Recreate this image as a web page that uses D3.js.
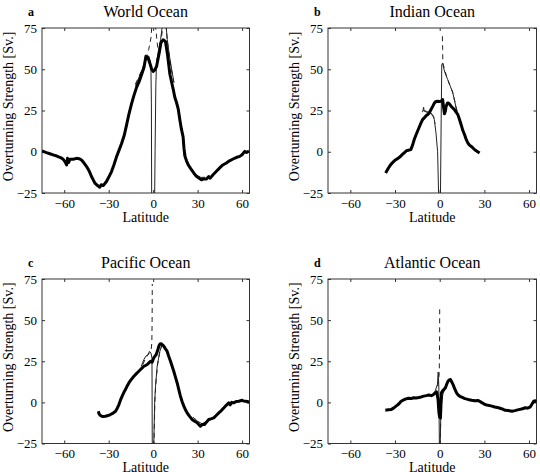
<!DOCTYPE html>
<html><head><meta charset="utf-8">
<script src="https://cdn.jsdelivr.net/npm/d3@7"></script>
<style>
html,body{margin:0;padding:0;background:#fff;}
svg{display:block;}
text{font-family:"Liberation Serif","Times New Roman",serif;fill:#000;}
</style></head>
<body>
<svg id="chart" width="540" height="472"></svg>
<script>
// ---------- data (latitude, overturning strength in Sv) ----------
const xTicks = [-60, -30, 0, 30, 60];
const yTicks = [-25, 0, 25, 50, 75];
const panelLetters = ["a", "b", "c", "d"];
const panelTitles = ["World Ocean", "Indian Ocean", "Pacific Ocean", "Atlantic Ocean"];

const worldThick = [[-75,0.5],[-72,-0.5],[-69.7,-1.2],[-67,-2],[-65,-2.6],[-62.5,-3.5],[-60.7,-4.6],[-59.5,-6],[-58.4,-8],[-57.8,-4],[-57,-6.5],[-56.2,-4.6],[-54,-4.5],[-51.7,-4],[-50,-4.2],[-48.3,-5],[-46.5,-7],[-44.9,-9],[-43,-12],[-41.6,-15],[-39.3,-19],[-37.5,-20.5],[-36,-21.5],[-35,-20],[-33.7,-20.5],[-31.5,-18],[-30,-15.5],[-28.1,-12],[-26.5,-8],[-24.7,-3],[-23,1],[-21.3,5],[-19.5,10],[-18,16],[-16.3,23],[-14.6,29],[-13,34],[-11.2,39],[-9.5,42.5],[-7.9,46.5],[-6.2,51],[-4.9,57.8],[-3.5,57],[-2,53],[-1,50],[0,48.7],[1,49.5],[2.3,51.7],[3.4,56.8],[4.3,61],[5.2,65.9],[6.7,67.9],[8.3,66.9],[9.7,58.8],[11.3,47],[12.5,42],[13.5,38],[14.6,33],[15.7,30],[16.9,26],[18,19.4],[19,14],[20.2,9],[20.8,2],[21.5,-2.9],[22.5,-5.5],[23.6,-7.8],[25.8,-10.9],[27.5,-13],[29.2,-14.9],[31,-16],[32.6,-17],[34,-16.5],[36,-16.5],[37.5,-15],[38.5,-16],[40.4,-13.9],[42.5,-12],[44.9,-9.8],[47,-8],[49.4,-6.8],[51.5,-5.5],[53.9,-4.4],[56,-3.5],[58.4,-2.8],[60,-1.8],[61.8,0.2],[63,-0.5],[64.7,0.5]];
const worldThin = [[-12,40],[-10,44],[-8,48.5],[-6,53],[-4.5,58],[-3,58],[-2,55],[-1.5,50],[-1.2,30],[-1.0,-27],null,
  [1.0,-27],[1.3,0],[1.8,40],[2.3,55],[3.5,60],[5,68],[6,75],[6.5,77],null,
  [8.7,77],[9.5,68],[11,58],[12.5,50],[14,42],null,
  [20.5,-1],[22,-5],[24,-9],[26,-11.5],[29,-14],[32,-15.5],[35,-15.5]];
const worldDashed = [[-12,41],[-10,44.7],[-7,51],[-4.5,57.6],[-3,62],[-1.5,69],[-0.8,77],null,
  [1.5,77],[2.5,68],[3.5,60],[4.5,63],[6,72],[6.6,77],null,
  [8.5,77],[10,64],[12,51],[14,42]];

const indianThick = [[-36.3,-12.9],[-34.5,-10],[-32.9,-7.8],[-31,-6],[-29.5,-4.8],[-28,-4],[-26.2,-2.7],[-25,-1.5],[-23.9,-0.8],[-22.5,0.5],[-21.7,0.8],[-19.4,1.3],[-18.2,4],[-17.1,7.4],[-16,10],[-14.9,12.4],[-13.7,15],[-12.6,17.4],[-11.5,19.5],[-10.4,20.5],[-9,22],[-8.1,22.5],[-7,23.5],[-5.9,25.5],[-4.7,27.5],[-3.6,29.5],[-2.5,30.5],[-1.4,30.6],[0,30.5],[0.9,30.6],[2.0,31.6],[2.6,27],[3.2,23],[3.8,24.5],[4.3,27.5],[5.2,29.5],[5.9,29.5],[7,28.5],[7.7,27.5],[8.8,26.5],[9.9,25.5],[11,24],[12.2,22.5],[13.3,19.5],[14.4,16.4],[15.5,13],[16.7,10.3],[17.8,7.5],[18.9,5.3],[20,4],[21.2,3.2],[22.3,2.3],[23.5,1.2],[25,0.3],[26.8,-0.8]];
const indianThin = [[-11.5,24],[-10.8,27],[-10.5,25],[-9,24.5],[-7.5,24],[-5.9,23.5],[-4.5,22],[-3.6,19.4],[-2.5,11.4],[-1.4,0],[-0.7,-27],null,
  [0.5,-27],[1.0,20],[1.4,52.8],[2.0,53.8],[2.6,51],[3.5,48],[5.4,43.7],[7,40],[8.8,35.6],[10,31],[11,26.5],[12,23]];
const indianDashed = [[-11,25],[-9,24],[-6,23],[-4,21],[-3,17],null,
  [1.8,70],[2.0,62],[2.1,53.5],[3,51],[4.5,46],[6.5,41],[8.8,36],[10.5,29],[12,23.5]];

const pacificThick = [[-37,-5.4],[-36.5,-7],[-35.5,-8],[-34,-8.6],[-32.1,-8.4],[-30.5,-8],[-28.8,-7.4],[-27,-6.5],[-25.4,-5.4],[-24.2,-3.5],[-23.1,-1.3],[-22,1.5],[-20.9,3.8],[-19.8,6],[-18.7,7.8],[-17.5,10],[-16.4,11.8],[-14.7,14],[-13,15.9],[-11.3,17.5],[-9.7,18.9],[-8.5,20],[-7.4,21],[-6.3,22],[-5.2,22.4],[-4,23],[-2.9,24],[-1.8,25],[-0.7,24.4],[0.4,27],[2,29],[3,31.5],[3.8,34.1],[4.6,35.5],[5.4,35.7],[6.3,35],[7.2,34.1],[8.3,32.5],[9.4,31.1],[10.5,28],[11.7,25],[12.8,22],[13.9,18.9],[15,15.5],[16.2,11.8],[17.3,7.8],[18.4,3.8],[19.5,0.5],[20.7,-2.3],[21.8,-4.5],[22.9,-6.4],[24.6,-8.5],[26.3,-10.4],[28,-11.5],[29.7,-12.4],[30.8,-13.5],[31.9,-14.5],[33,-13.5],[34.6,-13.5],[36,-12],[37.5,-10.4],[39,-10],[40.9,-9.4],[42.5,-8],[44.3,-6.4],[46,-5],[47.6,-3.4],[49.3,-1.8],[51,-0.3],[52,-1.5],[53,0],[54.4,-0.3],[56,0.5],[57.8,0.7],[60,1.3],[61,0.8],[62.2,0.7],[63.5,0.5],[65,0.1]];
const pacificThin = [[-8,22],[-6.3,26],[-5,28],[-3.5,29],[-2.5,31],[-1.5,30],[-0.8,27],[-0.6,-27],null,
  [0.4,-27],[1,0],[1.6,9.8],[2.7,22],[4.5,31],[6,35],null,
  [27,-9],[30,-11.5],[33,-13],[36,-11.5]];
const pacificDashed = [[-7,23],[-5,27],[-3,29.5],[-1.5,31],[-0.9,36],[-0.7,50],[-0.6,72],null,
  [0.5,-27],[1.2,2],[2,14],[3,23],[4.5,31],[6,35]];

const atlanticThick = [[-36.5,-4.8],[-34.5,-4.5],[-32.7,-4.4],[-31,-3.5],[-29.3,-2.3],[-27.5,-1],[-25.9,0.7],[-24.2,1.5],[-22.6,2.1],[-21,2.5],[-19.2,2.3],[-17.5,2.8],[-15.8,2.7],[-14,3],[-12.4,3.3],[-10.7,3.8],[-9,4.1],[-7.3,4.5],[-5.6,4.1],[-4.5,4.5],[-3.4,5.4],[-2,6.2],[-1.1,1.7],[-0.5,-6.4],[0,-9],[0.5,-9.4],[0.8,-3],[1.1,5.8],[2.3,7.4],[3.8,8.8],[4.7,11],[5.6,12.9],[6.4,13.7],[7.2,13.9],[8,12.5],[9,10.8],[10.2,8],[11.3,5.8],[12.4,4.5],[13.5,3.7],[15.2,3],[16.9,2.3],[19,1.8],[21.4,1.3],[23.6,1],[25.9,1.1],[28,0],[30.4,-1.3],[32.5,-1.8],[35,-2.3],[37,-2.8],[39.5,-3.3],[42,-4],[44,-4.8],[46,-5],[48.5,-5.4],[50.5,-5],[53,-4.4],[55,-4],[57.5,-3.3],[59,-3.5],[60.9,-2.7],[62,-1],[63.1,0.7],[64.2,1],[65,0.1]];
const atlanticThin = [[-5,4.5],[-3,7],[-1.5,11],[-1,18.5],[-0.6,10],[-0.2,-27],null,
  [0.3,-27],[0.7,-10],[1.4,1.3],[2.5,6.5],[4,9]];
const atlanticDashed = [[-4,5],[-2,7.5],[-1,12],[-0.3,17.5],[-0.05,40],[0,58],null,
  [0.2,-27],[0.8,-8],[1.5,2],[2.5,6],[4,9]];

const thickSeries = [worldThick, indianThick, pacificThick, atlanticThick];
const thinSeries = [worldThin, indianThin, pacificThin, atlanticThin];
const dashedSeries = [worldDashed, indianDashed, pacificDashed, atlanticDashed];

// ---------- layout ----------
const layout = [
  {x0: 42, y0: 28, w: 207.5, h: 165},
  {x0: 328, y0: 28, w: 208.5, h: 165},
  {x0: 42, y0: 279, w: 207.5, h: 164.5},
  {x0: 328, y0: 279, w: 208.5, h: 164.5}
];

const svg = d3.select("#chart");
const fmt = v => (v < 0 ? "\u2212" + Math.abs(v) : String(v));
const FONT = "Liberation Serif, Times New Roman, serif";

layout.forEach((L, i) => {
  const x = d3.scaleLinear().domain([-75, 65]).range([L.x0, L.x0 + L.w]);
  const y = d3.scaleLinear().domain([-25, 75]).range([L.y0 + L.h, L.y0]);
  const g = svg.append("g");

  const clipId = "clip" + i;
  svg.append("clipPath").attr("id", clipId).append("rect")
    .attr("x", L.x0).attr("y", L.y0).attr("width", L.w).attr("height", L.h);

  // axes (ticks inside, on all four sides)
  const tl = 3;
  g.append("g").attr("transform", `translate(0,${L.y0 + L.h})`)
    .call(d3.axisBottom(x).tickValues(xTicks).tickSize(-tl).tickPadding(5).tickFormat(fmt))
    .call(a => { a.attr("font-family", FONT); a.select(".domain").remove(); a.selectAll("text").attr("font-size", 13).attr("dy", "0.76em"); a.selectAll("line").attr("stroke", "#333"); });
  g.append("g").attr("transform", `translate(0,${L.y0})`)
    .call(d3.axisTop(x).tickValues(xTicks).tickSize(-tl).tickFormat(""))
    .call(a => { a.select(".domain").remove(); a.selectAll("line").attr("stroke", "#333"); });
  g.append("g").attr("transform", `translate(${L.x0},0)`)
    .call(d3.axisLeft(y).tickValues(yTicks).tickSize(-tl).tickPadding(5).tickFormat(fmt))
    .call(a => { a.attr("font-family", FONT); a.select(".domain").remove(); a.selectAll("text").attr("font-size", 13); a.selectAll("line").attr("stroke", "#333"); });
  g.append("g").attr("transform", `translate(${L.x0 + L.w},0)`)
    .call(d3.axisRight(y).tickValues(yTicks).tickSize(-tl).tickFormat(""))
    .call(a => { a.select(".domain").remove(); a.selectAll("line").attr("stroke", "#333"); });

  g.append("rect").attr("x", L.x0).attr("y", L.y0).attr("width", L.w).attr("height", L.h)
    .attr("fill", "none").attr("stroke", "#333").attr("stroke-width", 1);

  const line = d3.line().defined(d => d !== null).x(d => x(d[0])).y(d => y(d[1]));
  const lines = g.append("g").attr("clip-path", `url(#${clipId})`);
  lines.append("path").attr("d", line(dashedSeries[i])).attr("fill", "none")
    .attr("stroke", "#222").attr("stroke-width", 1).attr("stroke-dasharray", "5,4");
  lines.append("path").attr("d", line(thinSeries[i])).attr("fill", "none")
    .attr("stroke", "#222").attr("stroke-width", 1);
  lines.append("path").attr("d", line(thickSeries[i])).attr("fill", "none")
    .attr("stroke", "#000").attr("stroke-width", 3).attr("stroke-linejoin", "round");

  // titles and labels
  g.append("text").attr("x", L.x0 + L.w / 2).attr("y", L.y0 - 11).attr("text-anchor", "middle")
    .attr("font-size", 16).text(panelTitles[i]);
  g.append("text").attr("x", L.x0 - 14).attr("y", L.y0 - 12).attr("font-size", 12)
    .attr("font-weight", "bold").text(panelLetters[i]);
  g.append("text").attr("x", L.x0 + L.w / 2).attr("y", L.y0 + L.h + 28.5).attr("text-anchor", "middle")
    .attr("font-size", 14).text("Latitude");
  g.append("text").attr("transform", `translate(${L.x0 - 29.5},${L.y0 + L.h / 2 - 4}) rotate(-90)`)
    .attr("text-anchor", "middle").attr("font-size", 14).text("Overturning Strength [Sv.]");
});
</script>
</body></html>
